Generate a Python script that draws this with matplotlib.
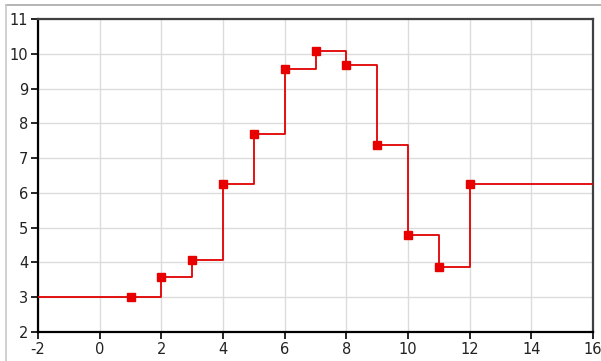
import matplotlib.pyplot as plt
from matplotlib.lines import Line2D
import numpy as np

plt.rcParams['axes.unicode_minus'] = False

x_vals = [1, 2, 3, 4, 5, 6, 7, 8, 9, 10, 11, 12]
y_vals = [3.0, 3.57, 4.08, 6.26, 7.68, 9.56, 10.08, 9.68, 7.39, 4.8, 3.88, 6.26]
x_ticks = [-2, 0, 2, 4, 6, 8, 10, 12, 14, 16]
y_ticks = [2, 3, 4, 5, 6, 7, 8, 9, 10, 11]

fig = plt.figure(figsize=(6.01, 3.61), dpi=100)
ax = fig.add_axes([38 / 601, 29 / 361, 555 / 601, 313 / 361])

# step line runs from the left edge to the first point and past the last one
xs = [x_ticks[0]] + x_vals + [x_ticks[-1]]
ys = [y_vals[0]] + y_vals + [y_vals[-1]]
ax.step(xs, ys, where='post', color='#e00000', lw=1.3, zorder=3)
ax.plot(x_vals, y_vals, 's', color='#e80000', ms=6, zorder=4)

ax.set_xlim(x_ticks[0], x_ticks[-1])
ax.set_ylim(y_ticks[0], y_ticks[-1])
ax.set_xticks(x_ticks)
ax.set_yticks(y_ticks)
ax.grid(True, color='#dcdcdc', lw=1)
ax.set_axisbelow(True)
ax.tick_params(direction='out', length=5, width=1.2, colors='black',
               labelsize=10.5, labelcolor='#222222', pad=2)
for side in ['left', 'bottom']:
    ax.spines[side].set_color('black')
    ax.spines[side].set_linewidth(1.6)
for side in ['top', 'right']:
    ax.spines[side].set_color('#404040')
    ax.spines[side].set_linewidth(1.6)

# light window frame along the top and left
fig.add_artist(Line2D([6 / 601, 1], [1 - 4.5 / 361, 1 - 4.5 / 361],
                      transform=fig.transFigure, color='#a8a8a8', lw=1.2))
fig.add_artist(Line2D([6 / 601, 6 / 601], [0, 1 - 4.5 / 361],
                      transform=fig.transFigure, color='#c8c8c8', lw=1.2))

fig.savefig('out.png', dpi=100)
